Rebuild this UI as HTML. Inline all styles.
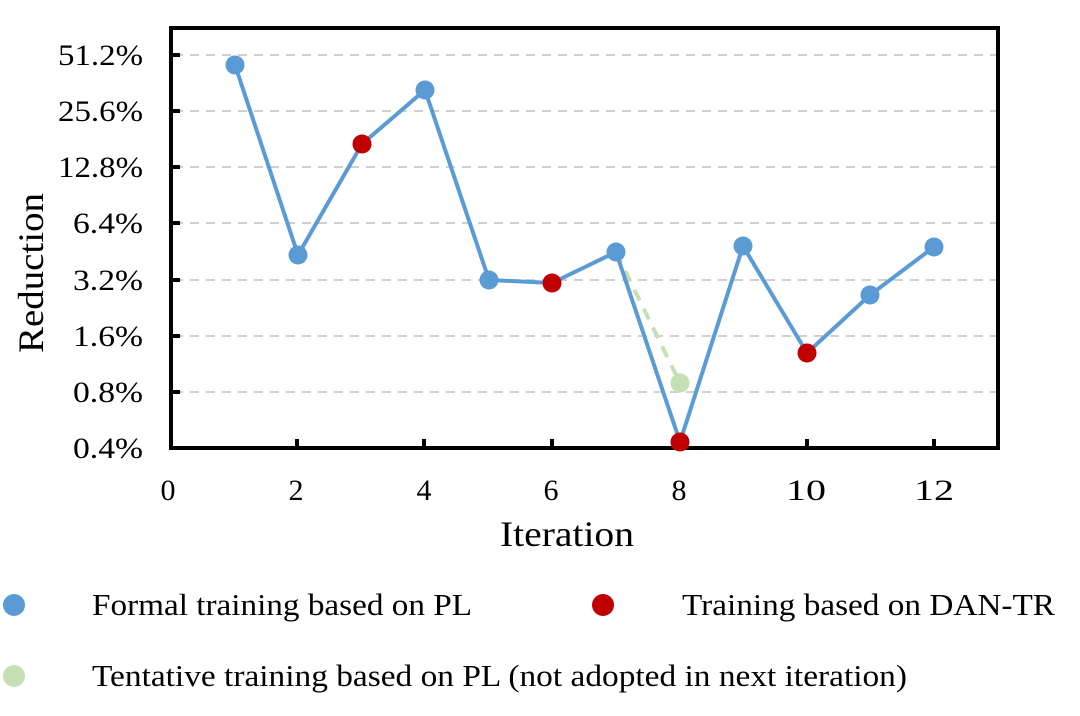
<!DOCTYPE html>
<html><head><meta charset="utf-8"><style>
body{margin:0;background:#fff;}
svg{display:block;font-family:"Liberation Serif",serif;}
</style></head><body>
<svg width="1080" height="716" viewBox="0 0 1080 716">
<g stroke="#d0d0d0" stroke-width="2" stroke-dasharray="9,7">
<line x1="174" y1="55" x2="996" y2="55"/><line x1="174" y1="111" x2="996" y2="111"/>
<line x1="174" y1="167" x2="996" y2="167"/><line x1="174" y1="223" x2="996" y2="223"/>
<line x1="174" y1="280" x2="996" y2="280"/><line x1="174" y1="336" x2="996" y2="336"/>
<line x1="174" y1="392" x2="996" y2="392"/>
</g>
<rect x="171" y="28" width="827" height="420" fill="none" stroke="#000" stroke-width="4"/>
<g stroke="#000" stroke-width="4">
<line x1="171" y1="55" x2="180" y2="55"/><line x1="171" y1="111" x2="180" y2="111"/>
<line x1="171" y1="167" x2="180" y2="167"/><line x1="171" y1="223" x2="180" y2="223"/>
<line x1="171" y1="280" x2="180" y2="280"/><line x1="171" y1="336" x2="180" y2="336"/>
<line x1="171" y1="392" x2="180" y2="392"/>
<line x1="297" y1="448" x2="297" y2="439"/><line x1="424" y1="448" x2="424" y2="439"/>
<line x1="552" y1="448" x2="552" y2="439"/><line x1="679" y1="448" x2="679" y2="439"/>
<line x1="807" y1="448" x2="807" y2="439"/><line x1="934" y1="448" x2="934" y2="439"/>
</g>
<g font-size="30" text-anchor="end" fill="#000">
<text x="143" y="65" textLength="85" lengthAdjust="spacingAndGlyphs">51.2%</text>
<text x="143" y="121" textLength="85" lengthAdjust="spacingAndGlyphs">25.6%</text>
<text x="143" y="177" textLength="85" lengthAdjust="spacingAndGlyphs">12.8%</text>
<text x="143" y="233" textLength="70" lengthAdjust="spacingAndGlyphs">6.4%</text>
<text x="143" y="290" textLength="70" lengthAdjust="spacingAndGlyphs">3.2%</text>
<text x="143" y="346" textLength="70" lengthAdjust="spacingAndGlyphs">1.6%</text>
<text x="143" y="402" textLength="70" lengthAdjust="spacingAndGlyphs">0.8%</text>
<text x="143" y="458" textLength="70" lengthAdjust="spacingAndGlyphs">0.4%</text>
</g>
<g font-size="30" text-anchor="middle">
<text x="168" y="500">0</text><text x="296" y="500">2</text><text x="424" y="500">4</text>
<text x="551" y="500">6</text><text x="679" y="500">8</text><text x="806" y="500" textLength="40" lengthAdjust="spacingAndGlyphs">10</text><text x="934" y="500" textLength="40" lengthAdjust="spacingAndGlyphs">12</text>
</g>
<text x="567" y="546" font-size="36" text-anchor="middle" textLength="134" lengthAdjust="spacingAndGlyphs">Iteration</text>
<text transform="translate(43,273) rotate(-90)" font-size="36" text-anchor="middle" textLength="160" lengthAdjust="spacingAndGlyphs">Reduction</text>
<polyline points="616,252 680,383" fill="none" stroke="#c5e0b4" stroke-width="4" stroke-dasharray="12,9"/>
<polyline points="235,65 298,255 362,144 425,90 489,280 552,283 616,252 680,442 743,246 807,353 870,295 934,247" fill="none" stroke="#5b9bd5" stroke-width="4"/>
<g fill="#5b9bd5">
<circle cx="235" cy="65" r="9.5"/><circle cx="298" cy="255" r="9.5"/><circle cx="425" cy="90" r="9.5"/>
<circle cx="489" cy="280" r="9.5"/><circle cx="616" cy="252" r="9.5"/><circle cx="743" cy="246" r="9.5"/>
<circle cx="870" cy="295" r="9.5"/><circle cx="934" cy="247" r="9.5"/>
</g>
<circle cx="680" cy="383" r="9.5" fill="#c5e0b4"/>
<g fill="#c00000">
<circle cx="362" cy="144" r="9.5"/><circle cx="552" cy="283" r="9.5"/><circle cx="680" cy="442" r="9.5"/><circle cx="807" cy="353" r="9.5"/>
</g>
<circle cx="14" cy="605" r="11" fill="#5b9bd5"/>
<text x="92" y="615" font-size="31" textLength="380" lengthAdjust="spacingAndGlyphs">Formal training based on PL</text>
<circle cx="603" cy="605" r="11" fill="#c00000"/>
<text x="682" y="615" font-size="31" textLength="373" lengthAdjust="spacingAndGlyphs">Training based on DAN-TR</text>
<circle cx="14" cy="676" r="11" fill="#c5e0b4"/>
<text x="92" y="686" font-size="31" textLength="815" lengthAdjust="spacingAndGlyphs">Tentative training based on PL (not adopted in next iteration)</text>
</svg>
</body></html>
